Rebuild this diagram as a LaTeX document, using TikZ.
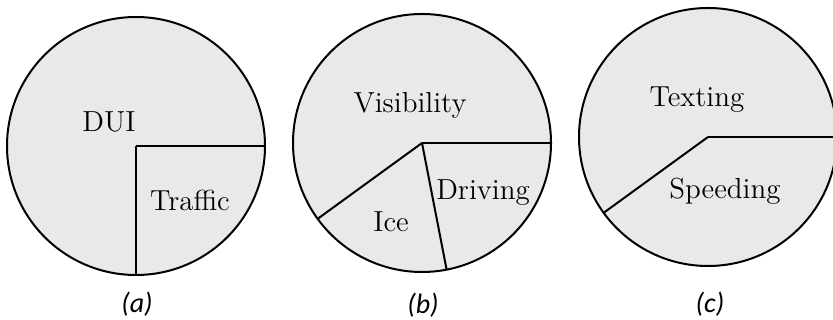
\documentclass[tikz,border=0pt]{standalone}
\usepackage{fontspec}
\newfontfamily\capfont{Carlito}
\usepackage{tikz}
\usetikzlibrary{positioning}
\definecolor{piefill}{RGB}{233,233,233}

\begin{document}
\begin{tikzpicture}[x=0.5pt, y=0.5pt, line width=1pt,
    slice/.style={font=\fontsize{14.5}{17}\selectfont},
    sublabel/.style={font=\capfont\itshape\fontsize{14}{16}\selectfont}]
  \useasboundingbox (0,0) rectangle (833,320);
  \def\rr{129}

  % (a)
  \coordinate (ca) at (136,174);
  \draw[fill=piefill] (ca) circle (\rr);
  \draw (ca) -- ++(0:\rr);
  \draw (ca) -- ++(270:\rr);
  \node[slice] (dui) at (109,198) {DUI};
  \node[slice] (traffic) at (190,120) {Traffic};
  \node[sublabel] (capa) at (137,16) {(a)};

  % (b)
  \coordinate (cb) at (422,177);
  \draw[fill=piefill] (cb) circle (\rr);
  \draw (cb) -- ++(0:\rr);
  \draw (cb) -- ++(216:\rr);
  \draw (cb) -- ++(281:\rr);
  \node[slice] (visib) at (410,215) {Visibility};
  \node[slice] (driving) at (483,127) {Driving};
  \node[slice] (ice) at (391,98) {Ice};
  \node[sublabel] (capb) at (423,15) {(b)};

  % (c)
  \coordinate (cc) at (708,183);
  \draw[fill=piefill] (cc) circle (\rr);
  \draw (cc) -- ++(0:\rr);
  \draw (cc) -- ++(216:\rr);
  \node[slice] (texting) at (697,220) {Texting};
  \node[slice] (speeding) at (725,129) {Speeding};
  \node[sublabel] (capc) at (710,16) {(c)};
\end{tikzpicture}
\end{document}
